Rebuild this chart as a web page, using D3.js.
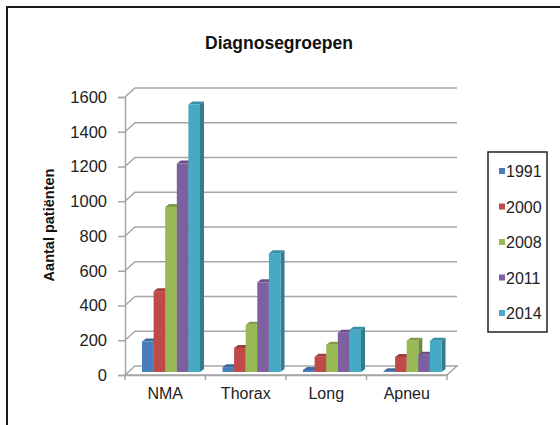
<!DOCTYPE html>
<html>
<head>
<meta charset="utf-8">
<script src="https://cdn.jsdelivr.net/npm/d3@7"></script>
<style>
  html, body { margin: 0; padding: 0; background: #fff; }
  svg { display: block; }
</style>
</head>
<body>
<div id="chart"></div>
<script>
const categories = ['NMA', 'Thorax', 'Long', 'Apneu'];
const years = ['1991', '2000', '2008', '2011', '2014'];
const values1991 = [175, 28, 12, 5];
const values2000 = [465, 138, 88, 87];
const values2008 = [950, 272, 157, 180];
const values2011 = [1200, 516, 226, 100];
const values2014 = [1540, 684, 243, 180];
const yTicks = [0, 200, 400, 600, 800, 1000, 1200, 1400, 1600];
const colors = ['#4a7ebb', '#be4b48', '#98b954', '#7d60a0', '#46aac5'];

const seriesValues = [values1991, values2000, values2008, values2011, values2014];
const width = 560, height = 425;
const font = '"Liberation Sans", Arial, sans-serif';

const svg = d3.select('#chart')
  .append('svg')
  .attr('width', width)
  .attr('height', height)
  .attr('viewBox', `0 0 ${width} ${height}`)
  .attr('font-family', font);

// frame (top and left edge only, as in the scan)
svg.append('path')
  .attr('d', `M7,${height} L7,7 L${width},7`)
  .attr('fill', 'none')
  .attr('stroke', '#1a1a1a')
  .attr('stroke-width', 2);

svg.append('text')
  .attr('x', 279)
  .attr('y', 49)
  .attr('text-anchor', 'middle')
  .attr('font-size', 17.5)
  .attr('font-weight', 'bold')
  .attr('fill', '#111')
  .text('Diagnosegroepen');

const x0 = 125, x1 = 447;
const depthX = 10, depthY = -9;   // back wall offset
const y = d3.scaleLinear().domain([0, 1600]).range([375, 97]);
const x = d3.scaleBand().domain(categories).range([x0, x1]).padding(0);
const xs = d3.scaleBand().domain(years).range([14, 72]).padding(0);

const grid = svg.append('g')
  .attr('fill', 'none')
  .attr('stroke', '#a6a6a6')
  .attr('stroke-width', 1.5);

// side wall diagonals + back wall lines
yTicks.forEach(v => {
  if (v === 0) return;
  grid.append('path')
    .attr('d', `M${x0},${y(v)} L${x0 + depthX},${y(v) + depthY} L${x1 + depthX},${y(v) + depthY}`);
});

// floor
grid.append('path')
  .attr('d', `M${x0},${y(0)} L${x1},${y(0)} L${x1 + depthX},${y(0) + depthY} L${x0 + depthX},${y(0) + depthY} Z`)
  .attr('fill', '#fff');

// front value axis
const yAxis = d3.axisLeft(y).tickValues(yTicks).tickFormat(d3.format('d')).tickSize(7).tickPadding(11);
const ya = svg.append('g')
  .attr('transform', `translate(${x0},0)`)
  .call(yAxis);
ya.select('.domain').attr('stroke', '#a6a6a6').attr('stroke-width', 1.5);
ya.selectAll('.tick line').attr('stroke', '#a6a6a6').attr('stroke-width', 1.5);
ya.selectAll('.tick text')
  .attr('font-size', 16.5)
  .attr('font-family', font)
  .attr('fill', '#222');

// category axis
const xa = svg.append('g')
  .attr('transform', `translate(0,${y(0)})`)
  .call(d3.axisBottom(x).tickSize(0).tickPadding(13));
xa.select('.domain').attr('stroke', '#a6a6a6').attr('stroke-width', 1.5);
xa.selectAll('.tick text')
  .attr('font-size', 16)
  .attr('font-family', font)
  .attr('fill', '#222');
const bounds = categories.map(c => x(c)).concat([x1]);
xa.selectAll('.sep')
  .data(bounds)
  .join('line')
  .attr('x1', d => d).attr('x2', d => d)
  .attr('y1', 0).attr('y2', 5)
  .attr('stroke', '#a6a6a6')
  .attr('stroke-width', 1.5);

// bars
const bx = 3, by = -3;     // bar front face offset into depth
const sd = 4, sdy = -3;    // bar side depth
const bars = svg.append('g');
categories.forEach((cat, ci) => {
  years.forEach((yr, si) => {
    const v = seriesValues[si][ci];
    const c = d3.color(colors[si]);
    const left = x(cat) + xs(yr) + bx;
    const w = xs.bandwidth();
    const top = y(v) + by;
    const base = y(0) + by;
    // side face
    bars.append('path')
      .attr('d', `M${left + w},${base} L${left + w + sd},${base + sdy} L${left + w + sd},${top + sdy} L${left + w},${top} Z`)
      .attr('fill', c.darker(0.9));
    // top face
    bars.append('path')
      .attr('d', `M${left},${top} L${left + w},${top} L${left + w + sd},${top + sdy} L${left + sd},${top + sdy} Z`)
      .attr('fill', c.darker(0.5));
    // front face
    bars.append('rect')
      .attr('x', left)
      .attr('y', top)
      .attr('width', w)
      .attr('height', Math.max(0, base - top))
      .attr('fill', c);
  });
});

// axis title
svg.append('text')
  .attr('transform', 'translate(54,225) rotate(-90)')
  .attr('text-anchor', 'middle')
  .attr('font-size', 14.5)
  .attr('font-weight', 'bold')
  .attr('fill', '#111')
  .text('Aantal patiënten');

// legend
const legend = svg.append('g');
legend.append('rect')
  .attr('x', 488).attr('y', 152)
  .attr('width', 59).attr('height', 180)
  .attr('fill', '#fff')
  .attr('stroke', '#222')
  .attr('stroke-width', 1.5);
const ly = d3.scalePoint().domain(years).range([171, 313]);
years.forEach((yr, i) => {
  legend.append('rect')
    .attr('x', 499).attr('y', ly(yr) - 3)
    .attr('width', 6).attr('height', 6)
    .attr('fill', colors[i]);
  legend.append('text')
    .attr('x', 506).attr('y', ly(yr) + 6)
    .attr('font-size', 16)
    .attr('fill', '#222')
    .text(yr);
});
</script>
</body>
</html>
